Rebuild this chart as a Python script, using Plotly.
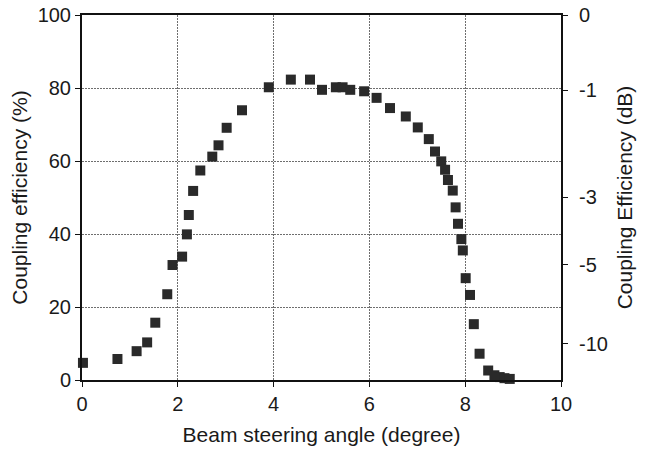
import plotly.graph_objects as go

# Beam steering angle (degree)
angle = [0.02, 0.74, 1.14, 1.36, 1.53, 1.78, 1.89, 2.09, 2.19, 2.23, 2.32, 2.47,
         2.72, 2.85, 3.02, 3.34, 3.90, 4.36, 4.76, 5.01, 5.30, 5.44, 5.60, 5.89,
         6.15, 6.43, 6.76, 7.01, 7.24, 7.37, 7.50, 7.58, 7.64, 7.74, 7.80, 7.85,
         7.92, 7.95, 8.01, 8.10, 8.18, 8.30, 8.48, 8.61, 8.72, 8.82, 8.93]
# Coupling efficiency (%)
efficiency = [4.7, 5.75, 7.9, 10.3, 15.7, 23.5, 31.5, 33.8, 39.9, 45.2, 51.8, 57.4,
              61.2, 64.3, 69.1, 73.9, 80.2, 82.3, 82.3, 79.5, 80.2, 80.2, 79.5, 79.1,
              77.3, 74.5, 72.2, 69.2, 66.0, 62.6, 59.9, 57.6, 54.8, 51.9, 47.3, 42.8,
              38.6, 35.5, 27.9, 23.3, 15.3, 7.2, 2.6, 1.3, 0.8, 0.5, 0.3]

x_ticks = [0, 2, 4, 6, 8, 10]
y_ticks = [0, 20, 40, 60, 80, 100]
db_ticks = [0, -1, -3, -5, -10]
db_tickvals = [100 * 10 ** (d / 10) for d in db_ticks]
db_ticktext = [str(d) for d in db_ticks]

FONT = "Liberation Sans, Arial, sans-serif"
TXT = "#1a1a1a"
GRID = "#6e6e6e"

fig = go.Figure()
fig.add_trace(go.Scatter(
    x=angle, y=efficiency, mode="markers",
    marker=dict(symbol="square", size=10, color="#2a2a2a", line=dict(width=0)),
    cliponaxis=False, showlegend=False,
))
fig.add_trace(go.Scatter(
    x=angle, y=efficiency, mode="markers", yaxis="y2",
    marker=dict(symbol="square", size=10, color="rgba(0,0,0,0)"),
    hoverinfo="skip", showlegend=False,
))

fig.update_layout(
    width=650, height=450,
    margin=dict(l=82, r=89, t=15, b=70),
    paper_bgcolor="white", plot_bgcolor="white",
    font=dict(family=FONT, size=20, color=TXT),
    xaxis=dict(
        range=[0, 10], tickvals=x_ticks, automargin=False,
        showline=True, linecolor="#111", linewidth=1.5, mirror=True,
        ticks="outside", ticklen=5, tickwidth=1, tickcolor="#111",
        showgrid=True, gridcolor=GRID, gridwidth=1, griddash="2px,1px",
        zeroline=False, ticklabelstandoff=0,
        title=dict(text="Beam steering angle (degree)", font=dict(size=21), standoff=14),
    ),
    yaxis=dict(
        range=[0, 100], tickvals=y_ticks, automargin=False,
        showline=True, linecolor="#111", linewidth=2,
        ticks="outside", ticklen=5, tickwidth=1, tickcolor="#111",
        showgrid=True, gridcolor=GRID, gridwidth=1, griddash="2px,1px",
        zeroline=False, ticklabelstandoff=0,
        title=dict(text="Coupling efficiency (%)", font=dict(size=21), standoff=4),
    ),
    yaxis2=dict(
        range=[0, 100], overlaying="y", side="right", automargin=False,
        tickvals=db_tickvals, ticktext=db_ticktext,
        showline=True, linecolor="#111", linewidth=2,
        ticks="outside", ticklen=5, tickwidth=1, tickcolor="#111",
        showgrid=False, zeroline=False, ticklabelstandoff=7,
        title=dict(text="Coupling Efficiency (dB)", font=dict(size=21), standoff=10),
    ),
)

fig.write_html("out.html")
